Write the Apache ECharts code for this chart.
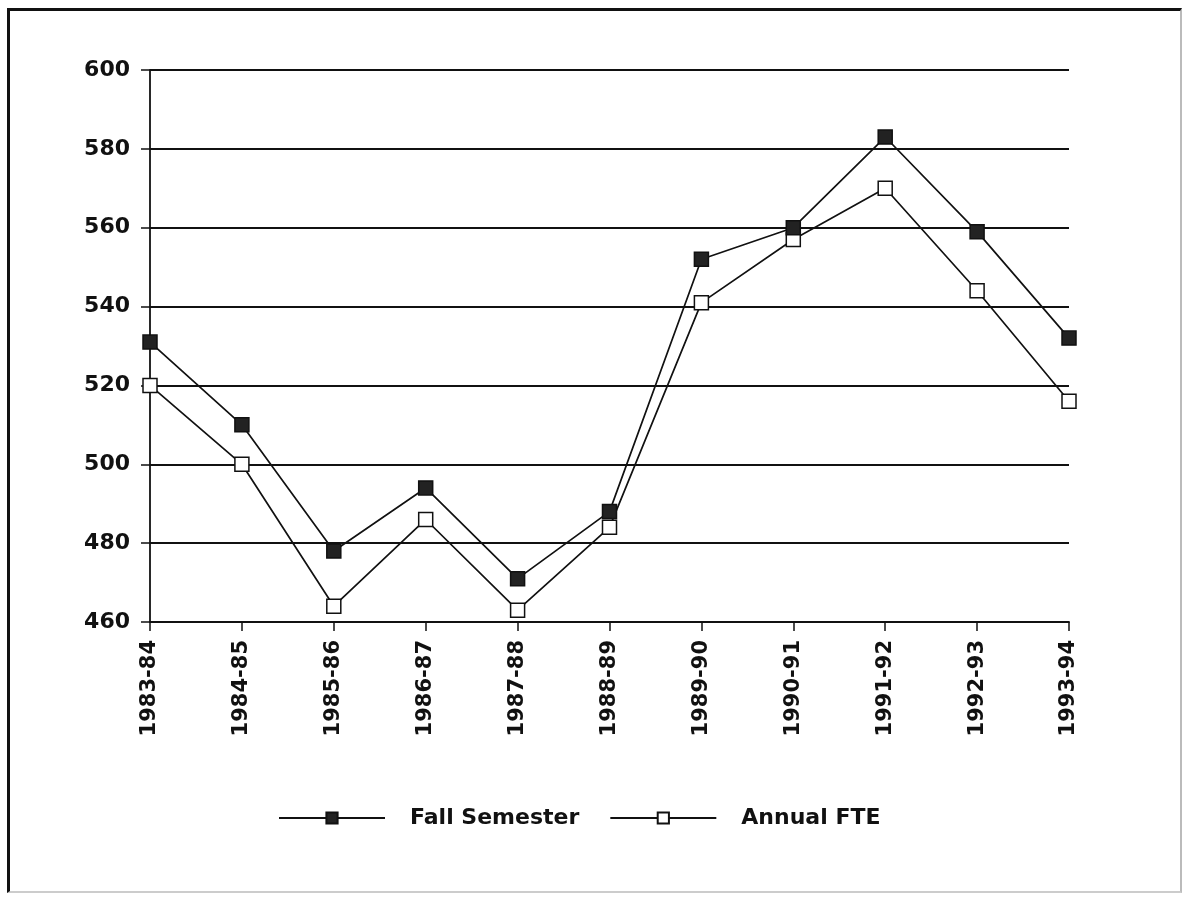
<!DOCTYPE html>
<html>
<head>
<meta charset="utf-8">
<script src="https://cdn.jsdelivr.net/npm/echarts@6/dist/echarts.min.js"></script>
<style>
  html, body { margin: 0; padding: 0; background: #fff; }
  .frame {
    position: absolute;
    left: 7px; top: 8px;
    width: 1170px; height: 880px;
    border-left: 3px solid #111;
    border-top: 3px solid #111;
    border-right: 2px solid #bbb;
    border-bottom: 2px solid #ccc;
  }
  #chart { position: absolute; left: 0; top: 0; width: 1184px; height: 897px; }
</style>
</head>
<body>
<div class="frame"></div>
<div id="chart"></div>
<script>
const years = [
  "1983-84", "1984-85", "1985-86", "1986-87", "1987-88", "1988-89",
  "1989-90", "1990-91", "1991-92", "1992-93", "1993-94"
];
const fallSemester = [531, 510, 478, 494, 471, 488, 552, 560, 583, 559, 532];
const annualFTE = [520, 500, 464, 486, 463, 484, 541, 557, 570, 544, 516];
const yTicks = [460, 480, 500, 520, 540, 560, 580, 600];

const FONT = "DejaVu Sans";

const chart = echarts.init(document.getElementById("chart"));
const option = {
  backgroundColor: "transparent",
  animation: false,
  grid: {
    left: 150,
    right: 115,
    top: 70,
    bottom: 275,
    containLabel: false,
  },
  legend: {
    left: 273,
    top: 802,
    itemWidth: 106,
    itemHeight: 14,
    itemGap: 30,
    textStyle: {
      fontFamily: FONT,
      fontWeight: "bold",
      fontSize: 22,
      color: "#111",
      padding: [0, 0, 0, 20],
    },
    data: ["Fall Semester", "Annual FTE"],
  },
  xAxis: {
    type: "category",
    boundaryGap: false,
    data: years,
    axisLine: { lineStyle: { color: "#111", width: 1.8 } },
    axisTick: { show: true, length: 9, lineStyle: { color: "#111", width: 1.5 } },
    axisLabel: {
      rotate: 90,
      margin: 18,
      fontFamily: FONT,
      fontWeight: "bold",
      fontSize: 21,
      color: "#111",
    },
  },
  yAxis: {
    type: "value",
    min: yTicks[0],
    max: yTicks[yTicks.length - 1],
    interval: 20,
    axisLine: { show: true, lineStyle: { color: "#111", width: 1.8 } },
    axisTick: { show: true, length: 9, lineStyle: { color: "#111", width: 1.5 } },
    splitLine: { show: true, lineStyle: { color: "#111", width: 1.8 } },
    axisLabel: {
      margin: 20,
      fontFamily: FONT,
      fontWeight: "bold",
      fontSize: 22,
      color: "#111",
    },
  },
  series: [
    {
      name: "Fall Semester",
      type: "line",
      data: fallSemester,
      symbol: "rect",
      symbolSize: 14,
      lineStyle: { color: "#111", width: 1.7 },
      itemStyle: { color: "#222", borderColor: "#111", borderWidth: 1.5 },
      z: 3,
    },
    {
      name: "Annual FTE",
      type: "line",
      data: annualFTE,
      symbol: "rect",
      symbolSize: 14,
      lineStyle: { color: "#111", width: 1.7 },
      itemStyle: { color: "#fff", borderColor: "#111", borderWidth: 1.5 },
      z: 2,
    },
  ],
};
chart.setOption(option);
</script>
</body>
</html>
